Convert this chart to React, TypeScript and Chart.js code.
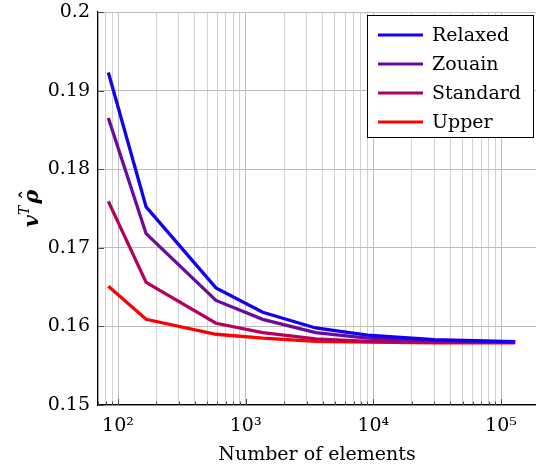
import React, { useEffect, useRef } from "react";
import { Chart, registerables } from "chart.js";

Chart.register(...registerables);

const elements = [84, 166, 585, 1360, 3530, 9000, 30000, 129000];
const relaxed = [0.1923, 0.1752, 0.1649, 0.1618, 0.1598, 0.1589, 0.1583, 0.15805];
const zouain = [0.1865, 0.1718, 0.1633, 0.1609, 0.1592, 0.1585, 0.1582, 0.158];
const standard = [0.1759, 0.1656, 0.1604, 0.1592, 0.1584, 0.1581, 0.158, 0.158];
const upper = [0.1651, 0.1609, 0.159, 0.1585, 0.1581, 0.158, 0.1579, 0.1579];

const seriesNames = ["Relaxed", "Zouain", "Standard", "Upper"];
const seriesValues = [relaxed, zouain, standard, upper];
const seriesColors = ["#1200ee", "#6a0aa0", "#b4005a", "#ff0000"];

const yTicks = [0.15, 0.16, 0.17, 0.18, 0.19, 0.2];
const yTickLabels = ["0.15", "0.16", "0.17", "0.18", "0.19", "0.2"];
const xDecades = [100, 1000, 10000, 100000];
const xDecadeLabels = ["10²", "10³", "10⁴", "10⁵"];

const X_MIN = 69.7;
const X_MAX = 188000;
const FONT = '"DejaVu Serif", "Liberation Serif", serif';

function isDecade(v: number) {
  const l = Math.log10(v);
  return Math.abs(l - Math.round(l)) < 1e-6;
}

function logTickValues(): number[] {
  const out: number[] = [];
  for (let e = 1; e <= 5; e++) {
    for (let m = 1; m <= 9; m++) {
      const v = m * Math.pow(10, e);
      if (v >= X_MIN && v <= X_MAX) out.push(v);
    }
  }
  return out;
}

const innerTicks = {
  id: "innerTicks",
  beforeDatasetsDraw(chart: any) {
    const { ctx, chartArea, scales } = chart;
    ctx.save();
    ctx.strokeStyle = "#4d4d4d";
    ctx.lineWidth = 1;
    scales.x.ticks.forEach((t: any) => {
      const px = Math.round(scales.x.getPixelForValue(t.value)) + 0.5;
      const len = isDecade(t.value) ? 6 : 3.5;
      ctx.beginPath();
      ctx.moveTo(px, chartArea.bottom);
      ctx.lineTo(px, chartArea.bottom - len);
      ctx.stroke();
    });
    scales.y.ticks.forEach((t: any) => {
      const py = Math.round(scales.y.getPixelForValue(t.value)) + 0.5;
      ctx.beginPath();
      ctx.moveTo(chartArea.left, py);
      ctx.lineTo(chartArea.left + 6, py);
      ctx.stroke();
    });
    ctx.restore();
  },
};

const yTitle = {
  id: "yTitle",
  afterDraw(chart: any) {
    const { ctx, chartArea } = chart;
    const cy = (chartArea.top + chartArea.bottom) / 2;
    ctx.save();
    ctx.translate(30, cy);
    ctx.rotate(-Math.PI / 2);
    ctx.fillStyle = "#000000";
    ctx.textBaseline = "alphabetic";
    ctx.textAlign = "left";
    const big = `italic bold 21px ${FONT}`;
    const small = `italic 14px ${FONT}`;
    ctx.font = big;
    const wv = ctx.measureText("v").width;
    ctx.font = small;
    const wt = ctx.measureText("T").width;
    ctx.font = big;
    const wr = ctx.measureText("ρ").width;
    const total = wv + wt + 2 + wr;
    let x = -total / 2;
    const base = 8;
    ctx.font = big;
    ctx.fillText("v", x, base);
    x += wv;
    ctx.font = small;
    ctx.fillText("T", x, base - 9);
    x += wt + 2;
    ctx.font = big;
    ctx.fillText("ρ", x, base);
    ctx.font = `bold 18px ${FONT}`;
    ctx.textAlign = "center";
    ctx.fillText("ˆ", x + wr / 2 + 2, base - 4);
    ctx.restore();
  },
};

const boxLegend = {
  id: "boxLegend",
  afterDraw(chart: any) {
    const { ctx, chartArea } = chart;
    const w = 166;
    const h = 122;
    const left = chartArea.right - 169;
    const top = chartArea.top + 3;
    ctx.save();
    ctx.fillStyle = "#ffffff";
    ctx.fillRect(left, top, w, h);
    ctx.strokeStyle = "#000000";
    ctx.lineWidth = 1;
    ctx.strokeRect(left + 0.5, top + 0.5, w, h);
    ctx.font = `19px ${FONT}`;
    ctx.textBaseline = "middle";
    ctx.textAlign = "left";
    seriesNames.forEach((name, i) => {
      const y = top + 20 + i * 29;
      ctx.strokeStyle = seriesColors[i];
      ctx.lineWidth = 3;
      ctx.beginPath();
      ctx.moveTo(left + 11, y);
      ctx.lineTo(left + 56, y);
      ctx.stroke();
      ctx.fillStyle = "#000000";
      ctx.fillText(name, left + 65, y + 1);
    });
    ctx.restore();
  },
};

export default function App() {
  const ref = useRef<HTMLCanvasElement | null>(null);

  useEffect(() => {
    document.body.style.margin = "0";
    let chart: any = null;
    let cancelled = false;
    const make = () => {
      if (cancelled || !ref.current) return;
      chart = new Chart(ref.current, {
        type: "line",
        data: {
          datasets: seriesNames.map((name, i) => ({
            label: name,
            data: elements.map((x, j) => ({ x, y: seriesValues[i][j] })),
            borderColor: seriesColors[i],
            backgroundColor: seriesColors[i],
            borderWidth: 3.3,
            pointRadius: 0,
            tension: 0,
            fill: false,
          })),
        },
        options: {
          animation: false,
          responsive: false,
          devicePixelRatio: 1,
          layout: { padding: { top: 12, left: 0, right: 0, bottom: 0 } },
          plugins: {
            legend: { display: false },
            tooltip: { enabled: false },
          },
          scales: {
            x: {
              type: "logarithmic",
              min: X_MIN,
              max: X_MAX,
              afterBuildTicks: (scale: any) => {
                scale.ticks = logTickValues().map((v) => ({ value: v }));
              },
              afterFit: (scale: any) => {
                scale.height = 66;
                scale.paddingLeft = 0;
                scale.paddingRight = 0;
              },
              ticks: {
                autoSkip: false,
                maxRotation: 0,
                padding: 10,
                color: "#000000",
                font: { family: FONT, size: 19 },
                callback: (value: any) => {
                  const idx = xDecades.findIndex((d) => Math.abs(d - Number(value)) < 1e-6 * d);
                  return idx >= 0 ? xDecadeLabels[idx] : "";
                },
              },
              grid: {
                drawTicks: false,
                color: (ctx: any) => (ctx.tick && isDecade(ctx.tick.value) ? "#bdbdbd" : "#d2d2d2"),
                lineWidth: 1,
              },
              border: { display: true, color: "#000000", width: 1.2 },
              title: {
                display: true,
                text: "Number of elements",
                color: "#000000",
                font: { family: FONT, size: 19 },
                padding: { top: 0, bottom: 5 },
              },
            },
            y: {
              type: "linear",
              min: 0.15,
              max: 0.2,
              afterBuildTicks: (scale: any) => {
                scale.ticks = yTicks.map((v) => ({ value: v }));
              },
              afterFit: (scale: any) => {
                scale.width = 98;
                scale.paddingTop = 0;
                scale.paddingBottom = 0;
              },
              ticks: {
                padding: 8,
                color: "#000000",
                font: { family: FONT, size: 19 },
                callback: (_v: any, index: number) => yTickLabels[index],
              },
              grid: {
                drawTicks: false,
                color: "#bdbdbd",
                lineWidth: 1,
              },
              border: { display: true, color: "#000000", width: 1.2 },
              title: { display: false },
            },
          },
        },
        plugins: [innerTicks, yTitle, boxLegend],
      });
    };
    const fontsApi: any = (document as any).fonts;
    if (fontsApi && fontsApi.load) {
      Promise.all([
        fontsApi.load('19px "DejaVu Serif"'),
        fontsApi.load('italic bold 21px "DejaVu Serif"'),
        fontsApi.load('italic 14px "DejaVu Serif"'),
      ])
        .catch(() => null)
        .then(make);
    } else {
      make();
    }
    return () => {
      cancelled = true;
      if (chart) chart.destroy();
    };
  }, []);

  return (
    <div style={{ width: 536, height: 471 }}>
      <canvas ref={ref} width={536} height={471} style={{ display: "block" }} />
    </div>
  );
}
